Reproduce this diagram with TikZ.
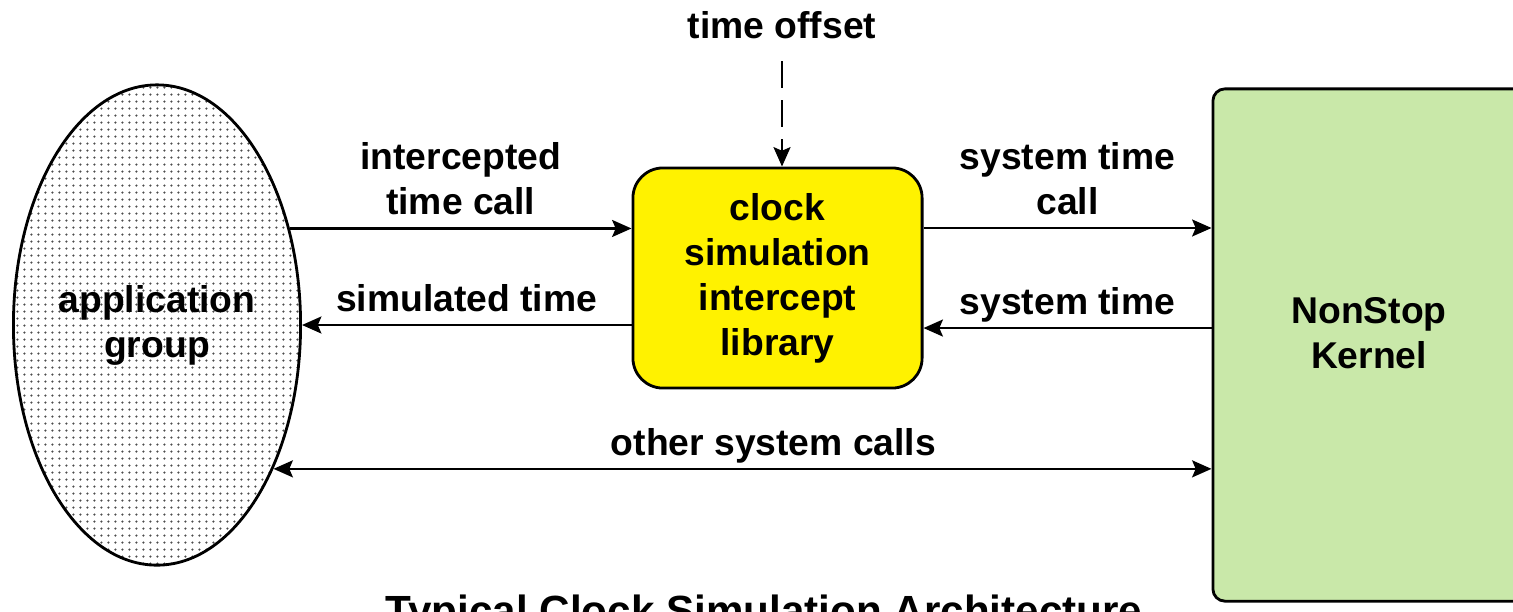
\documentclass[tikz,border=0pt]{standalone}
\usepackage{fontspec}
\setmainfont{Liberation Sans}
\usepackage{tikz}
\usetikzlibrary{arrows.meta}
\usetikzlibrary{shapes.geometric}
\usetikzlibrary{patterns.meta}

\definecolor{kerngreen}{RGB}{201,232,169}

\tikzdeclarepattern{name=appdots, type=uncolored,
  bounding box={(0,0) and (2.1pt,2.1pt)}, tile size={(2.1pt,2.1pt)},
  code={\fill (1.05pt,1.05pt) circle (0.38pt);}}

\tikzset{
  every node/.style={font=\bfseries\fontsize{10.6}{12.8}\selectfont, align=center},
  tip/.style={Stealth[length=5.5pt, width=4.8pt, inset=1pt]},
  arr/.style={line width=0.75pt, -{Stealth[length=5.5pt, width=4.8pt, inset=1pt]}},
  arrboth/.style={line width=0.75pt, {Stealth[length=5.5pt, width=4.8pt, inset=1pt]}-{Stealth[length=5.5pt, width=4.8pt, inset=1pt]}},
  lbl/.style={above, inner sep=3.5pt, text depth=0pt},
  appgroup/.style={ellipse, draw, line width=0.8pt, inner sep=0pt,
    minimum width=2.87cm, minimum height=4.8cm,
    pattern=appdots, pattern color=black!70},
  libbox/.style={rectangle, draw, line width=0.8pt, fill=yellow, rounded corners=0.3cm,
    minimum width=2.89cm, minimum height=2.2cm},
  kernbox/.style={rectangle, draw, line width=0.8pt, fill=kerngreen, rounded corners=0.12cm,
    minimum width=3.12cm, minimum height=5.12cm, text depth=0.24cm}
}

\begin{document}
\begin{tikzpicture}[x=0.01cm, y=-0.01cm]
  \useasboundingbox (0,0) rectangle (1513,611);
  \clip (0,0) rectangle (1513,611);

  \node[appgroup] (app) at (157,325) {application\\group};
  \node[libbox] (clock) at (777.5,278) {clock\\simulation\\intercept\\library};
  \node[kernbox] (kernel) at (1369,345) {NonStop\\Kernel};

  \node (offset) at (782,25) {time offset};
  \node[anchor=base, font=\bfseries\fontsize{12}{14}\selectfont] (title) at (764,625) {Typical Clock Simulation Architecture};

  \coordinate (hiR) at ([yshift=0.5cm]clock.east);
  \coordinate (loR) at ([yshift=-0.5cm]clock.east);

  \draw[arr] (app.36.5) -- node[lbl] (lblicall) {intercepted\\time call} (app.36.5 -| clock.west);
  \draw[arr] (clock.west |- app.east) -- node[lbl] (lblsim) {simulated time} (app.east);
  \draw[arr] (hiR) -- node[lbl] (lblscall) {system time\\call} (hiR -| kernel.west);
  \draw[arr] (loR -| kernel.west) -- node[lbl] (lblstime) {system time} (loR);
  \draw[arrboth] (app.-51.1) -- node[lbl, pos=0.533] (lblother) {other system calls} (app.-51.1 -| kernel.west);
  \draw[arr, dash pattern=on 0.27cm off 0.12cm, shorten <=0.1cm] (offset.south) -- (offset.south |- clock.north);
\end{tikzpicture}
\end{document}
